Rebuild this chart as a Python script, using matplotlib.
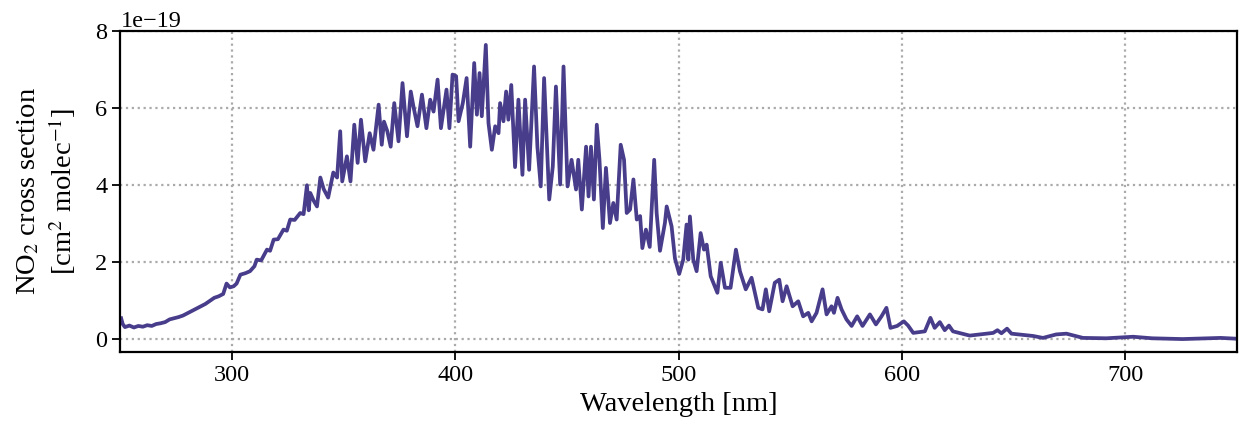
import matplotlib
matplotlib.use("Agg")
import matplotlib.pyplot as plt
import numpy as np

# NO2 absorption cross section (units of 1e-19 cm2/molec)
wavelength = [
    250.3, 251.0, 252, 254, 256, 258, 260, 262, 264, 266, 268, 270, 272, 274, 276, 278,
    280, 282, 284, 286, 288, 290, 292, 294, 296, 297.5, 299, 300.7, 302, 303.7, 306, 308,
    310, 311, 313, 315.6, 317, 318.6, 320.5, 323, 324.5, 326, 328, 330.5, 332, 333.5, 334.3,
    335, 336.5, 338, 339.5, 341, 343, 345.3, 347, 348.4, 349.3, 351.4, 353, 354.7, 356.2,
    357.7, 359.6, 361.6, 363.3, 365.6, 367, 368, 369.5, 371, 372.6, 374.5, 376.3, 378.3,
    380, 381.2, 383, 385, 387, 388.7, 390.2, 392, 393.5, 396, 397.3, 398.7, 400.3, 401.4,
    403.3, 405, 406.6, 408.4, 409.6, 410.8, 411.8, 413.6, 414.8, 416.3, 417.8, 419.3, 420,
    421.5, 422.7, 423.7, 425, 426.7, 428.2, 430, 431.2, 433, 435.2, 436.7, 438.2, 439.7,
    442, 443.6, 445, 446.9, 448.4, 450.2, 452, 454, 455, 456.6, 458.5, 459.6, 460.7, 462,
    463.3, 464.5, 466, 467.4, 469.2, 470.7, 472.2, 474, 475.5, 476.7, 478.2, 479.7, 481.2,
    482.7, 483.7, 485.3, 487, 489, 490.1, 491.6, 493.8, 494.6, 496.8, 498.3, 500.2, 502,
    503.5, 504.3, 505, 506.5, 508, 509.8, 511.3, 512.5, 514.3, 517.3, 518.8, 520.7, 523.2,
    525.6, 527.4, 530, 532.6, 535.6, 537.5, 539, 540.5, 543, 545, 546.5, 548.3, 551, 553.5,
    555.7, 558, 559.5, 561.7, 564.4, 566.2, 568.4, 569.5, 571.1, 572.9, 575.1, 577.4,
    579.9, 582.3, 585.6, 588.3, 590.8, 593, 594.8, 597.8, 600.8, 602.7, 605, 610.2, 612.7,
    614.6, 616.9, 619.1, 621, 622.8, 630.3, 640.8, 642.7, 644.5, 647, 649, 658.7, 663.1,
    669, 673.6, 681, 691.5, 703.4, 712, 725.6, 742.7, 749.5,
]
cross_section = [
    0.55, 0.40, 0.32, 0.36, 0.31, 0.35, 0.33, 0.37, 0.35, 0.40, 0.42, 0.45, 0.52, 0.55, 0.58, 0.62,
    0.68, 0.74, 0.80, 0.86, 0.92, 1.00, 1.08, 1.12, 1.18, 1.45, 1.35, 1.38, 1.45, 1.68, 1.72, 1.77,
    1.90, 2.07, 2.05, 2.33, 2.30, 2.59, 2.60, 2.85, 2.82, 3.11, 3.10, 3.28, 3.25, 4.00, 3.35,
    3.80, 3.60, 3.45, 4.20, 3.90, 3.68, 4.33, 4.20, 5.40, 4.10, 4.75, 4.10, 5.57, 4.58,
    5.70, 4.62, 5.35, 4.92, 6.09, 5.05, 5.65, 5.40, 5.00, 6.13, 5.14, 6.65, 5.27,
    6.43, 6.04, 5.53, 6.35, 5.48, 6.22, 5.91, 6.74, 5.48, 6.48, 5.48, 6.87, 6.83, 5.66,
    6.13, 6.78, 5.00, 7.17, 5.83, 6.91, 5.79, 7.64, 5.61, 4.92, 5.53, 5.35, 6.13,
    5.66, 6.43, 5.70, 6.60, 4.47, 6.22, 4.27, 6.22, 4.40, 7.08, 5.00, 3.97, 6.78,
    3.63, 4.49, 6.56, 4.02, 7.08, 3.97, 4.66, 3.89, 4.66, 3.37, 5.00, 3.71, 5.00, 3.63,
    5.57, 4.66, 2.89, 4.45, 3.02, 3.54, 3.11, 5.05, 4.66, 3.28, 3.37, 4.15, 3.11,
    3.20, 2.37, 2.85, 2.40, 4.66, 3.28, 2.30, 3.02, 3.45, 2.93, 2.10, 1.70, 2.07,
    2.98, 2.07, 3.19, 2.07, 1.77, 2.76, 2.33, 2.46, 1.64, 1.21, 1.99, 1.34, 1.34,
    2.33, 1.77, 1.30, 1.60, 0.82, 0.78, 1.30, 0.73, 1.47, 1.55, 0.99, 1.38, 0.86, 0.99,
    0.60, 0.69, 0.47, 0.69, 1.30, 0.65, 0.86, 0.69, 1.08, 0.78, 0.52, 0.35,
    0.60, 0.35, 0.65, 0.39, 0.60, 0.82, 0.30, 0.35, 0.47, 0.36, 0.17, 0.21, 0.56,
    0.30, 0.45, 0.24, 0.36, 0.21, 0.10, 0.17, 0.24, 0.16, 0.28, 0.15, 0.09, 0.04,
    0.13, 0.15, 0.04, 0.03, 0.07, 0.03, 0.01, 0.04, 0.02,
]

plt.rcParams['font.family'] = ['Liberation Serif', 'DejaVu Serif']
plt.rcParams['mathtext.fontset'] = 'stix'
plt.rcParams['font.size'] = 17

fig, ax = plt.subplots(figsize=(12.42, 4.37), dpi=100)
fig.subplots_adjust(left=0.097, right=0.996, top=0.929, bottom=0.195)

ax.plot(wavelength, np.array(cross_section) * 1e-19, color='darkslateblue', lw=2.7)

ax.set_xlim(250, 750)
ax.set_ylim(-0.32e-19, 8e-19)
ax.set_xticks([300, 400, 500, 600, 700])
ax.set_yticks(np.array([0, 2, 4, 6, 8]) * 1e-19)
ax.grid(True, ls=':', color='#aaaaaa', lw=1.6)
for s in ax.spines.values():
    s.set_linewidth(1.6)
ax.tick_params(width=1.3, length=6, labelsize=17.5)
ax.yaxis.get_offset_text().set_fontsize(17.5)

ax.set_xlabel('Wavelength [nm]', fontsize=20.5, labelpad=4)
ax.set_ylabel('NO$_2$ cross section\n[cm$^2$ molec$^{-1}$]', fontsize=20.5, labelpad=12)

plt.savefig('out.png', dpi=100)
